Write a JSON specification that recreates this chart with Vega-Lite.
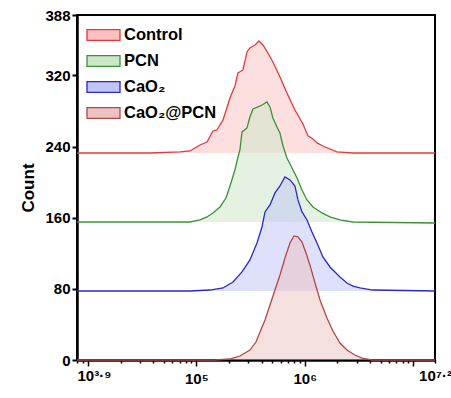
{
  "$schema": "https://vega.github.io/schema/vega-lite/v6.json",
  "width": 358,
  "height": 345,
  "autosize": {"type": "none"},
  "padding": {"left": 77, "top": 15, "right": 16, "bottom": 38},
  "background": "white",
  "config": {
    "view": {"stroke": "black", "strokeWidth": 2},
    "font": "Liberation Sans",
    "legend": {
      "orient": "none",
      "legendX": 9,
      "legendY": 2.5,
      "title": null,
      "padding": 0,
      "symbolType": "M-1,-0.33H1V0.33H-1Z",
      "symbolSize": 1089,
      "symbolStrokeWidth": 1.3,
      "symbolOpacity": 1,
      "labelFont": "Liberation Sans",
      "labelFontWeight": "bold",
      "labelFontSize": 16.5,
      "labelColor": "black",
      "labelOffset": 3,
      "rowPadding": -11.3
    }
  },
  "data": {
    "values": [
      {"sample": "Control", "logFL": 3.9, "count": 232.8},
      {"sample": "Control", "logFL": 4.573, "count": 232.8},
      {"sample": "Control", "logFL": 4.849, "count": 234},
      {"sample": "Control", "logFL": 4.941, "count": 235.1},
      {"sample": "Control", "logFL": 5.034, "count": 241.8},
      {"sample": "Control", "logFL": 5.098, "count": 245.2},
      {"sample": "Control", "logFL": 5.153, "count": 257.6},
      {"sample": "Control", "logFL": 5.19, "count": 258.7},
      {"sample": "Control", "logFL": 5.246, "count": 270},
      {"sample": "Control", "logFL": 5.31, "count": 294.7},
      {"sample": "Control", "logFL": 5.356, "count": 308.2},
      {"sample": "Control", "logFL": 5.384, "count": 322.8},
      {"sample": "Control", "logFL": 5.43, "count": 326.2},
      {"sample": "Control", "logFL": 5.467, "count": 346.5},
      {"sample": "Control", "logFL": 5.494, "count": 351},
      {"sample": "Control", "logFL": 5.541, "count": 354.3},
      {"sample": "Control", "logFL": 5.577, "count": 358.8},
      {"sample": "Control", "logFL": 5.614, "count": 354.3},
      {"sample": "Control", "logFL": 5.66, "count": 345.3},
      {"sample": "Control", "logFL": 5.706, "count": 335.2},
      {"sample": "Control", "logFL": 5.771, "count": 318.3},
      {"sample": "Control", "logFL": 5.835, "count": 300.3},
      {"sample": "Control", "logFL": 5.909, "count": 281.2},
      {"sample": "Control", "logFL": 5.983, "count": 265.5},
      {"sample": "Control", "logFL": 6.029, "count": 252},
      {"sample": "Control", "logFL": 6.075, "count": 248.6},
      {"sample": "Control", "logFL": 6.112, "count": 244.1},
      {"sample": "Control", "logFL": 6.167, "count": 240.7},
      {"sample": "Control", "logFL": 6.232, "count": 237.3},
      {"sample": "Control", "logFL": 6.296, "count": 234},
      {"sample": "Control", "logFL": 6.444, "count": 232.8},
      {"sample": "Control", "logFL": 7.2, "count": 232.8},
      {"sample": "PCN", "logFL": 3.9, "count": 155.2},
      {"sample": "PCN", "logFL": 4.573, "count": 155.2},
      {"sample": "PCN", "logFL": 4.941, "count": 155.2},
      {"sample": "PCN", "logFL": 5.034, "count": 157.5},
      {"sample": "PCN", "logFL": 5.098, "count": 160.9},
      {"sample": "PCN", "logFL": 5.153, "count": 165.4},
      {"sample": "PCN", "logFL": 5.218, "count": 172.1},
      {"sample": "PCN", "logFL": 5.273, "count": 182.2},
      {"sample": "PCN", "logFL": 5.31, "count": 195.7},
      {"sample": "PCN", "logFL": 5.356, "count": 213.7},
      {"sample": "PCN", "logFL": 5.384, "count": 228.3},
      {"sample": "PCN", "logFL": 5.402, "count": 236.2},
      {"sample": "PCN", "logFL": 5.421, "count": 256.5},
      {"sample": "PCN", "logFL": 5.467, "count": 261},
      {"sample": "PCN", "logFL": 5.494, "count": 273.3},
      {"sample": "PCN", "logFL": 5.522, "count": 282.3},
      {"sample": "PCN", "logFL": 5.568, "count": 284.6},
      {"sample": "PCN", "logFL": 5.605, "count": 286.8},
      {"sample": "PCN", "logFL": 5.651, "count": 290.2},
      {"sample": "PCN", "logFL": 5.679, "count": 284.6},
      {"sample": "PCN", "logFL": 5.706, "count": 272.2},
      {"sample": "PCN", "logFL": 5.743, "count": 262.1},
      {"sample": "PCN", "logFL": 5.771, "count": 255.3},
      {"sample": "PCN", "logFL": 5.799, "count": 240.7},
      {"sample": "PCN", "logFL": 5.835, "count": 227.2},
      {"sample": "PCN", "logFL": 5.882, "count": 216},
      {"sample": "PCN", "logFL": 5.928, "count": 204.7},
      {"sample": "PCN", "logFL": 5.974, "count": 191.2},
      {"sample": "PCN", "logFL": 6.02, "count": 180},
      {"sample": "PCN", "logFL": 6.075, "count": 172.1},
      {"sample": "PCN", "logFL": 6.158, "count": 165.4},
      {"sample": "PCN", "logFL": 6.232, "count": 160.9},
      {"sample": "PCN", "logFL": 6.324, "count": 157.5},
      {"sample": "PCN", "logFL": 6.444, "count": 155.2},
      {"sample": "PCN", "logFL": 7.2, "count": 154.1},
      {"sample": "CaO₂", "logFL": 3.9, "count": 77.6},
      {"sample": "CaO₂", "logFL": 4.941, "count": 77.6},
      {"sample": "CaO₂", "logFL": 5.126, "count": 78.7},
      {"sample": "CaO₂", "logFL": 5.246, "count": 81},
      {"sample": "CaO₂", "logFL": 5.338, "count": 87.7},
      {"sample": "CaO₂", "logFL": 5.421, "count": 99},
      {"sample": "CaO₂", "logFL": 5.494, "count": 112.5},
      {"sample": "CaO₂", "logFL": 5.559, "count": 131.6},
      {"sample": "CaO₂", "logFL": 5.605, "count": 149.6},
      {"sample": "CaO₂", "logFL": 5.633, "count": 166.5},
      {"sample": "CaO₂", "logFL": 5.679, "count": 174.4},
      {"sample": "CaO₂", "logFL": 5.725, "count": 187.9},
      {"sample": "CaO₂", "logFL": 5.771, "count": 195.7},
      {"sample": "CaO₂", "logFL": 5.817, "count": 205.9},
      {"sample": "CaO₂", "logFL": 5.863, "count": 202.5},
      {"sample": "CaO₂", "logFL": 5.909, "count": 195.7},
      {"sample": "CaO₂", "logFL": 5.937, "count": 180},
      {"sample": "CaO₂", "logFL": 5.974, "count": 166.5},
      {"sample": "CaO₂", "logFL": 6.02, "count": 157.5},
      {"sample": "CaO₂", "logFL": 6.066, "count": 144},
      {"sample": "CaO₂", "logFL": 6.112, "count": 131.6},
      {"sample": "CaO₂", "logFL": 6.167, "count": 115.9},
      {"sample": "CaO₂", "logFL": 6.232, "count": 104.6},
      {"sample": "CaO₂", "logFL": 6.324, "count": 93.4},
      {"sample": "CaO₂", "logFL": 6.388, "count": 86.6},
      {"sample": "CaO₂", "logFL": 6.444, "count": 83.2},
      {"sample": "CaO₂", "logFL": 6.508, "count": 81},
      {"sample": "CaO₂", "logFL": 6.628, "count": 78.7},
      {"sample": "CaO₂", "logFL": 7.2, "count": 77.6},
      {"sample": "CaO₂@PCN", "logFL": 3.9, "count": 0},
      {"sample": "CaO₂@PCN", "logFL": 5.172, "count": 0},
      {"sample": "CaO₂@PCN", "logFL": 5.31, "count": 1.1},
      {"sample": "CaO₂@PCN", "logFL": 5.402, "count": 4.5},
      {"sample": "CaO₂@PCN", "logFL": 5.494, "count": 11.2},
      {"sample": "CaO₂@PCN", "logFL": 5.55, "count": 20.2},
      {"sample": "CaO₂@PCN", "logFL": 5.587, "count": 31.5},
      {"sample": "CaO₂@PCN", "logFL": 5.633, "count": 45},
      {"sample": "CaO₂@PCN", "logFL": 5.679, "count": 61.9},
      {"sample": "CaO₂@PCN", "logFL": 5.725, "count": 78.7},
      {"sample": "CaO₂@PCN", "logFL": 5.771, "count": 95.6},
      {"sample": "CaO₂@PCN", "logFL": 5.817, "count": 114.7},
      {"sample": "CaO₂@PCN", "logFL": 5.863, "count": 131.6},
      {"sample": "CaO₂@PCN", "logFL": 5.9, "count": 139.5},
      {"sample": "CaO₂@PCN", "logFL": 5.937, "count": 138.4},
      {"sample": "CaO₂@PCN", "logFL": 5.974, "count": 132.7},
      {"sample": "CaO₂@PCN", "logFL": 6.011, "count": 120.4},
      {"sample": "CaO₂@PCN", "logFL": 6.047, "count": 106.9},
      {"sample": "CaO₂@PCN", "logFL": 6.094, "count": 86.6},
      {"sample": "CaO₂@PCN", "logFL": 6.14, "count": 67.5},
      {"sample": "CaO₂@PCN", "logFL": 6.204, "count": 47.2},
      {"sample": "CaO₂@PCN", "logFL": 6.259, "count": 32.6},
      {"sample": "CaO₂@PCN", "logFL": 6.324, "count": 19.1},
      {"sample": "CaO₂@PCN", "logFL": 6.388, "count": 11.2},
      {"sample": "CaO₂@PCN", "logFL": 6.462, "count": 5.6},
      {"sample": "CaO₂@PCN", "logFL": 6.527, "count": 2.2},
      {"sample": "CaO₂@PCN", "logFL": 6.619, "count": 0},
      {"sample": "CaO₂@PCN", "logFL": 7.2, "count": 0}
    ]
  },
  "encoding": {
    "x": {
      "field": "logFL",
      "type": "quantitative",
      "scale": {"domain": [3.9, 7.2], "nice": false, "zero": false},
      "axis": {
        "title": null,
        "values": [3.9, 3.954, 4, 4.301, 4.477, 4.602, 4.699, 4.778, 4.845, 4.903, 4.954, 5, 5.301, 5.477, 5.602, 5.699, 5.778, 5.845, 5.903, 5.954, 6, 6.301, 6.477, 6.602, 6.699, 6.778, 6.845, 6.903, 6.954, 7, 7.2],
        "labelExpr": "datum.value == 5 ? '10⁵' : datum.value == 6 ? '10⁶' : abs(datum.value - 3.9) < 0.001 ? '10³·⁹' : abs(datum.value - 7.2) < 0.001 ? '10⁷·²' : ''",
        "labelOverlap": false,
        "labelBound": false,
        "labelFlush": false,
        "labelFont": "Liberation Sans",
        "labelFontWeight": "bold",
        "labelFontSize": 15,
        "labelColor": "black",
        "labelPadding": 5,
        "labelAlign": {"condition": {"test": "datum.value < 3.95", "value": "left"}, "value": "center"},
        "tickSize": {"condition": {"test": "datum.value == 4 || datum.value == 5 || datum.value == 6 || datum.value == 7", "value": 6}, "value": 3},
        "tickColor": "black",
        "tickWidth": 1.5,
        "domainColor": "black",
        "domainWidth": 2.5,
        "grid": false
      }
    },
    "y": {
      "field": "count",
      "type": "quantitative",
      "scale": {"domain": [0, 388], "nice": false},
      "axis": {
        "title": "Count",
        "titleFont": "Liberation Sans",
        "titleFontWeight": "bold",
        "titleFontSize": 17,
        "titleColor": "black",
        "titlePadding": 7,
        "values": [0, 80, 160, 240, 320, 388],
        "labelFont": "Liberation Sans",
        "labelFontWeight": "bold",
        "labelFontSize": 15,
        "labelColor": "black",
        "labelPadding": 2,
        "tickSize": 5,
        "tickWidth": 2,
        "tickColor": "black",
        "domainColor": "black",
        "domainWidth": 2.5,
        "grid": false
      }
    }
  },
  "layer": [
    {
      "transform": [{"filter": "datum.sample == 'Control'"}],
      "mark": {"type": "area", "fillOpacity": 0.5},
      "encoding": {
        "y2": {"datum": 232.8},
        "fill": {"field": "sample", "type": "nominal", "sort": ["Control", "PCN", "CaO₂", "CaO₂@PCN"], "scale": {"domain": ["Control", "PCN", "CaO₂", "CaO₂@PCN"], "range": ["#fbc0c0", "#cce6c6", "#c0c4f6", "#ecc2c2"]}}
      }
    },
    {
      "transform": [{"filter": "datum.sample == 'PCN'"}],
      "mark": {"type": "area", "fillOpacity": 0.5},
      "encoding": {
        "y2": {"datum": 155.2},
        "fill": {"field": "sample", "type": "nominal"}
      }
    },
    {
      "transform": [{"filter": "datum.sample == 'CaO₂'"}],
      "mark": {"type": "area", "fillOpacity": 0.5},
      "encoding": {
        "y2": {"datum": 77.6},
        "fill": {"field": "sample", "type": "nominal"}
      }
    },
    {
      "transform": [{"filter": "datum.sample == 'CaO₂@PCN'"}],
      "mark": {"type": "area", "fillOpacity": 0.5},
      "encoding": {
        "y2": {"datum": 0},
        "fill": {"field": "sample", "type": "nominal"}
      }
    },
    {
      "mark": {"type": "line", "strokeWidth": 1.3},
      "encoding": {
        "stroke": {"field": "sample", "type": "nominal", "sort": ["Control", "PCN", "CaO₂", "CaO₂@PCN"], "scale": {"domain": ["Control", "PCN", "CaO₂", "CaO₂@PCN"], "range": ["#e5383b", "#3a913a", "#2828cc", "#b04848"]}}
      }
    }
  ]
}
